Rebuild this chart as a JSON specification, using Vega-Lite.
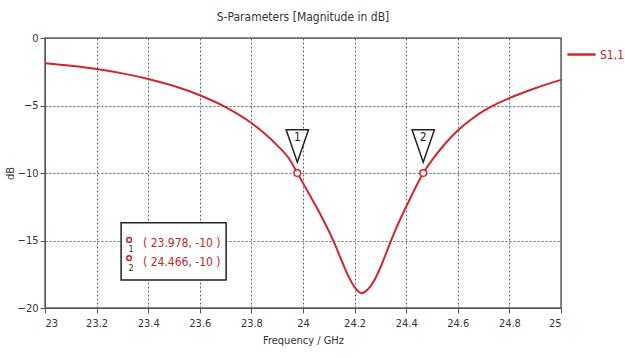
{
  "$schema": "https://vega.github.io/schema/vega-lite/v6.json",
  "autosize": {"type": "none"},
  "width": 516,
  "height": 270,
  "padding": {"left": 45, "top": 38, "right": 64, "bottom": 50},
  "background": "white",
  "config": {
    "font": "DejaVu Sans Condensed",
    "view": {"stroke": "#666", "strokeWidth": 1.5},
    "axis": {
      "labelFont": "DejaVu Sans Condensed",
      "labelFontSize": 11,
      "labelColor": "#333",
      "titleFont": "DejaVu Sans Condensed",
      "titleFontSize": 11,
      "titleFontWeight": "normal",
      "titleColor": "#333",
      "domainColor": "#555",
      "tickColor": "#555",
      "tickSize": 5,
      "gridColor": "#555",
      "gridDash": [2, 2],
      "gridOpacity": 0.9
    }
  },
  "title": {
    "text": "S-Parameters [Magnitude in dB]",
    "font": "DejaVu Sans Condensed",
    "fontSize": 12,
    "fontWeight": "normal",
    "color": "#333",
    "offset": 8
  },
  "datasets": {
    "curve": [
      {"freq": 23.0, "db": -1.87, "series": "S1,1"},
      {"freq": 23.1, "db": -2.06, "series": "S1,1"},
      {"freq": 23.2, "db": -2.3, "series": "S1,1"},
      {"freq": 23.3, "db": -2.62, "series": "S1,1"},
      {"freq": 23.4, "db": -3.03, "series": "S1,1"},
      {"freq": 23.5, "db": -3.56, "series": "S1,1"},
      {"freq": 23.6, "db": -4.24, "series": "S1,1"},
      {"freq": 23.7, "db": -5.12, "series": "S1,1"},
      {"freq": 23.8, "db": -6.3, "series": "S1,1"},
      {"freq": 23.85, "db": -7.05, "series": "S1,1"},
      {"freq": 23.9, "db": -7.95, "series": "S1,1"},
      {"freq": 23.95, "db": -9.05, "series": "S1,1"},
      {"freq": 23.978, "db": -10.0, "series": "S1,1"},
      {"freq": 24.0, "db": -10.75, "series": "S1,1"},
      {"freq": 24.025, "db": -11.6, "series": "S1,1"},
      {"freq": 24.05, "db": -12.45, "series": "S1,1"},
      {"freq": 24.075, "db": -13.35, "series": "S1,1"},
      {"freq": 24.1, "db": -14.3, "series": "S1,1"},
      {"freq": 24.125, "db": -15.35, "series": "S1,1"},
      {"freq": 24.15, "db": -16.5, "series": "S1,1"},
      {"freq": 24.175, "db": -17.6, "series": "S1,1"},
      {"freq": 24.2, "db": -18.45, "series": "S1,1"},
      {"freq": 24.227, "db": -18.9, "series": "S1,1"},
      {"freq": 24.25, "db": -18.65, "series": "S1,1"},
      {"freq": 24.275, "db": -18.0, "series": "S1,1"},
      {"freq": 24.3, "db": -17.0, "series": "S1,1"},
      {"freq": 24.325, "db": -15.8, "series": "S1,1"},
      {"freq": 24.35, "db": -14.6, "series": "S1,1"},
      {"freq": 24.375, "db": -13.5, "series": "S1,1"},
      {"freq": 24.4, "db": -12.5, "series": "S1,1"},
      {"freq": 24.433, "db": -11.2, "series": "S1,1"},
      {"freq": 24.466, "db": -10.0, "series": "S1,1"},
      {"freq": 24.5, "db": -9.05, "series": "S1,1"},
      {"freq": 24.55, "db": -7.85, "series": "S1,1"},
      {"freq": 24.6, "db": -6.85, "series": "S1,1"},
      {"freq": 24.65, "db": -6.05, "series": "S1,1"},
      {"freq": 24.7, "db": -5.4, "series": "S1,1"},
      {"freq": 24.75, "db": -4.88, "series": "S1,1"},
      {"freq": 24.8, "db": -4.45, "series": "S1,1"},
      {"freq": 24.85, "db": -4.07, "series": "S1,1"},
      {"freq": 24.9, "db": -3.72, "series": "S1,1"},
      {"freq": 24.95, "db": -3.4, "series": "S1,1"},
      {"freq": 25.0, "db": -3.1, "series": "S1,1"}
    ],
    "markers": [
      {"marker": "1", "freq": 23.978, "db": -10, "label": "( 23.978, -10 )"},
      {"marker": "2", "freq": 24.466, "db": -10, "label": "( 24.466, -10 )"}
    ]
  },
  "encoding": {
    "x": {
      "field": "freq", "type": "quantitative",
      "scale": {"domain": [23, 25], "nice": false, "zero": false},
      "axis": {"values": [23, 23.2, 23.4, 23.6, 23.8, 24, 24.2, 24.4, 24.6, 24.8, 25], "format": "~g", "title": "Frequency / GHz", "grid": true, "labelPadding": 4, "titlePadding": 6}
    },
    "y": {
      "field": "db", "type": "quantitative",
      "scale": {"domain": [-20, 0], "nice": false, "zero": false},
      "axis": {"values": [-20, -15, -10, -5, 0], "title": "dB", "grid": true, "titlePadding": 2}
    }
  },
  "layer": [
    {
      "data": {"name": "curve"},
      "mark": {"type": "line", "strokeWidth": 2, "interpolate": "monotone"},
      "encoding": {
        "color": {
          "field": "series", "type": "nominal",
          "scale": {"range": ["#d0262c"]},
          "legend": {
            "title": null,
            "orient": "none",
            "legendX": 521,
            "legendY": 1,
            "symbolType": "stroke",
            "symbolStrokeWidth": 2.5,
            "symbolSize": 800,
            "labelColor": "#c0262c",
            "labelFont": "DejaVu Sans Condensed",
            "labelFontSize": 12,
            "labelOffset": 3
          }
        }
      }
    },
    {
      "data": {"name": "markers"},
      "mark": {"type": "point", "shape": "M-1,-1.45L1,-1.45L0,1.45Z", "size": 500, "filled": true, "fill": "white", "stroke": "#222", "strokeWidth": 1.5, "opacity": 1},
      "encoding": {"y": {"datum": -8}}
    },
    {
      "data": {"name": "markers"},
      "mark": {"type": "text", "font": "DejaVu Sans Condensed", "fontSize": 12, "color": "#222", "baseline": "middle"},
      "encoding": {"y": {"datum": -7.3}, "text": {"field": "marker"}}
    },
    {
      "data": {"name": "markers"},
      "mark": {"type": "point", "shape": "circle", "size": 45, "filled": true, "fill": "white", "stroke": "#d0262c", "strokeWidth": 1.5, "opacity": 1}
    },
    {
      "data": {"name": "markers"},
      "transform": [{"filter": "datum.marker == '1'"}],
      "mark": {"type": "rect", "fill": "white", "stroke": "#222", "strokeWidth": 1.5},
      "encoding": {
        "x": {"datum": 23.295}, "x2": {"datum": 23.702},
        "y": {"datum": -13.68}, "y2": {"datum": -17.93}
      }
    },
    {
      "data": {"name": "markers"},
      "transform": [{"filter": "datum.marker == '1'"}],
      "layer": [
        {
          "mark": {"type": "text", "align": "left", "baseline": "middle", "fontSize": 12, "color": "#c0262c", "font": "DejaVu Sans Condensed"},
          "encoding": {"x": {"datum": 23.38}, "y": {"datum": -15.19}, "text": {"field": "label"}}
        },
        {
          "mark": {"type": "point", "shape": "circle", "size": 22, "filled": true, "fill": "white", "stroke": "#c0262c", "strokeWidth": 1.5, "opacity": 1},
          "encoding": {"x": {"datum": 23.326}, "y": {"datum": -14.96}}
        },
        {
          "mark": {"type": "text", "align": "center", "baseline": "middle", "fontSize": 9, "color": "#333", "font": "DejaVu Sans Condensed"},
          "encoding": {"x": {"datum": 23.334}, "y": {"datum": -15.65}, "text": {"field": "marker"}}
        }
      ]
    },
    {
      "data": {"name": "markers"},
      "transform": [{"filter": "datum.marker == '2'"}],
      "layer": [
        {
          "mark": {"type": "text", "align": "left", "baseline": "middle", "fontSize": 12, "color": "#c0262c", "font": "DejaVu Sans Condensed"},
          "encoding": {"x": {"datum": 23.38}, "y": {"datum": -16.59}, "text": {"field": "label"}}
        },
        {
          "mark": {"type": "point", "shape": "circle", "size": 22, "filled": true, "fill": "white", "stroke": "#c0262c", "strokeWidth": 1.5, "opacity": 1},
          "encoding": {"x": {"datum": 23.326}, "y": {"datum": -16.3}}
        },
        {
          "mark": {"type": "text", "align": "center", "baseline": "middle", "fontSize": 9, "color": "#333", "font": "DejaVu Sans Condensed"},
          "encoding": {"x": {"datum": 23.334}, "y": {"datum": -17.0}, "text": {"field": "marker"}}
        }
      ]
    }
  ]
}
